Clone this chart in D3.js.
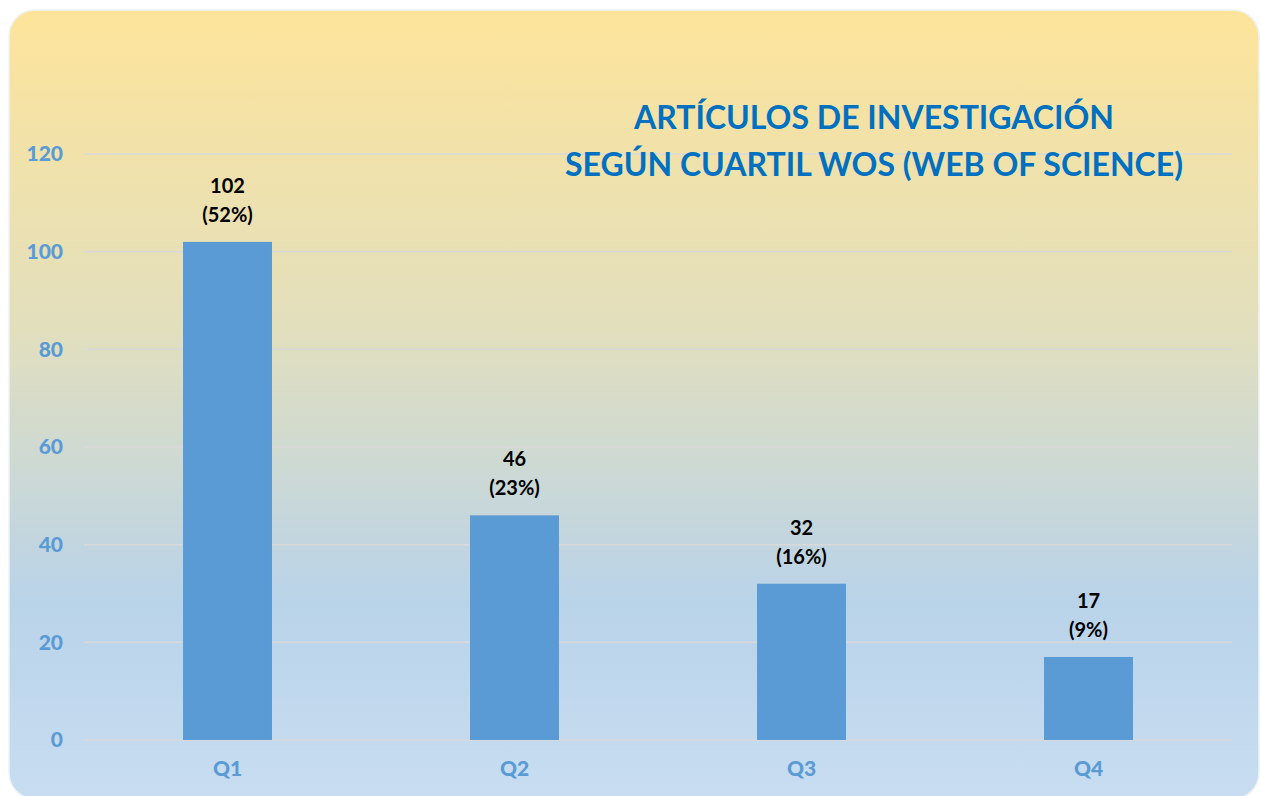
<!DOCTYPE html>
<html>
<head>
<meta charset="utf-8">
<script src="https://cdn.jsdelivr.net/npm/d3@7"></script>
<style>
  body { margin: 0; background: #ffffff; }
  svg { display: block; }
</style>
</head>
<body>
<div id="chart"></div>
<script>
// chart data
var categories = ["Q1", "Q2", "Q3", "Q4"];
var values = [102, 46, 32, 17];
var percents = ["52%", "23%", "16%", "9%"];
var yTicks = [0, 20, 40, 60, 80, 100, 120];
var titleLines = ["ARTÍCULOS DE INVESTIGACIÓN", "SEGÚN CUARTIL WOS (WEB OF SCIENCE)"];

var width = 1261, height = 796;

var svg = d3.select("#chart").append("svg")
    .attr("width", width)
    .attr("height", height);

var defs = svg.append("defs");
var grad = defs.append("linearGradient")
    .attr("id", "bg")
    .attr("x1", 0).attr("y1", 0).attr("x2", 0).attr("y2", 1);
grad.append("stop").attr("offset", "0%").attr("stop-color", "#fde49a");
grad.append("stop").attr("offset", "40%").attr("stop-color", "#e2dfbd");
grad.append("stop").attr("offset", "75%").attr("stop-color", "#b9d3e9");
grad.append("stop").attr("offset", "100%").attr("stop-color", "#c8ddf1");

// background panel
svg.append("rect")
    .attr("x", 9).attr("y", 10)
    .attr("width", 1250).attr("height", 789)
    .attr("rx", 26).attr("ry", 26)
    .attr("fill", "url(#bg)")
    .attr("stroke", "#eef3f8")
    .attr("stroke-width", 1.5);

var x = d3.scaleBand()
    .domain(categories)
    .range([84, 1232])
    .paddingInner(0.69)
    .paddingOuter(0.345);

var y = d3.scaleLinear()
    .domain([0, 120])
    .range([740, 154]);

// gridlines
svg.append("g")
    .selectAll("line")
    .data(yTicks)
    .join("line")
    .attr("x1", 84).attr("x2", 1232)
    .attr("y1", function(d) { return y(d); })
    .attr("y2", function(d) { return y(d); })
    .attr("stroke", "#d9d9d9")
    .attr("stroke-width", 1.5);

// y axis labels
var yAxis = d3.axisLeft(y).tickValues(yTicks).tickSize(0).tickPadding(0);
var gy = svg.append("g")
    .attr("transform", "translate(63,0)")
    .call(yAxis);
gy.select(".domain").remove();
gy.selectAll("text")
    .attr("fill", "#5b9bd5")
    .style("font-family", "Lato, 'Open Sans', sans-serif")
    .style("font-weight", "900")
    .style("font-size", "21px");

// x axis labels
var xAxis = d3.axisBottom(x).tickSize(0).tickPadding(0);
var gx = svg.append("g")
    .attr("transform", "translate(0,761)")
    .call(xAxis);
gx.select(".domain").remove();
gx.selectAll("text")
    .attr("fill", "#5b9bd5")
    .style("font-family", "Lato, 'Open Sans', sans-serif")
    .style("font-weight", "900")
    .style("font-size", "21px");

// bars
svg.append("g")
    .selectAll("rect")
    .data(values)
    .join("rect")
    .attr("x", function(d, i) { return x(categories[i]); })
    .attr("y", function(d) { return y(d); })
    .attr("width", x.bandwidth())
    .attr("height", function(d) { return y(0) - y(d); })
    .attr("fill", "#5b9bd5");

// data labels
var labels = svg.append("g")
    .selectAll("text")
    .data(values)
    .join("text")
    .attr("text-anchor", "middle")
    .attr("fill", "#000000")
    .style("font-family", "Lato, 'Open Sans', sans-serif")
    .style("font-weight", "bold")
    .style("font-size", "20px");
labels.append("tspan")
    .attr("x", function(d, i) { return x(categories[i]) + x.bandwidth() / 2; })
    .attr("y", function(d) { return y(d) - 49; })
    .text(function(d) { return d; });
labels.append("tspan")
    .attr("x", function(d, i) { return x(categories[i]) + x.bandwidth() / 2; })
    .attr("y", function(d) { return y(d) - 20; })
    .text(function(d, i) { return "(" + percents[i] + ")"; });

// title
svg.append("g")
    .selectAll("text")
    .data(titleLines)
    .join("text")
    .attr("x", 874)
    .attr("y", function(d, i) { return 129 + i * 47; })
    .attr("text-anchor", "middle")
    .attr("fill", "#0070c0")
    .style("font-family", "Lato, 'Open Sans', sans-serif")
    .style("font-weight", "bold")
    .style("font-size", "32px")
    .text(function(d) { return d; });
</script>
</body>
</html>
